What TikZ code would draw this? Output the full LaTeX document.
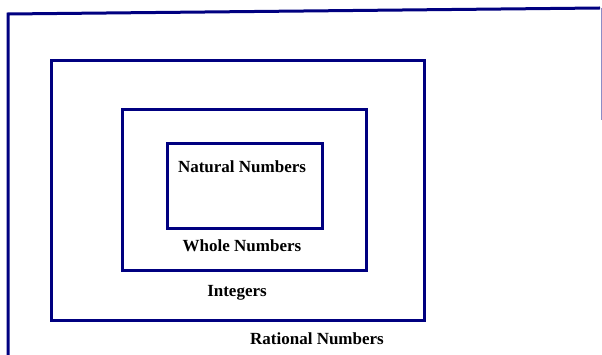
\documentclass[tikz,border=0pt]{standalone}
\usepackage{fontspec}
\setmainfont{Liberation Serif}
\usetikzlibrary{positioning}
\definecolor{setblue}{RGB}{0,0,128}

\begin{document}
\begin{tikzpicture}[x=1pt, y=-1pt,
        setbox/.style={draw=setblue, line width=3pt},
        setlabel/.style={font=\fontsize{17}{20}\selectfont\bfseries, inner sep=0pt}
        ]
          \useasboundingbox (0,0) rectangle (602,355);

          % Rational numbers (outer frame, cut off)
          \draw[setblue, line width=3pt] (8,356) -- (8,14) -- (600,8);
          \draw[setblue!45, line width=1pt] (601,8) -- (601,120);
          \node[setlabel] (rational) at (317,339) {Rational Numbers};

          % Integers
          \draw[setbox] (51,61) rectangle (424,320);
          \node[setlabel] (integers) at (237,293) {Integers};

          % Whole numbers
          \draw[setbox] (122,110) rectangle (366,271);
          \node[setlabel] (whole) at (242,246) {Whole Numbers};

          % Natural numbers
          \draw[setbox] (167,144) rectangle (322,229);
          \node[setlabel] (natural) at (242,167) {Natural Numbers};

        \end{tikzpicture}
\end{document}
